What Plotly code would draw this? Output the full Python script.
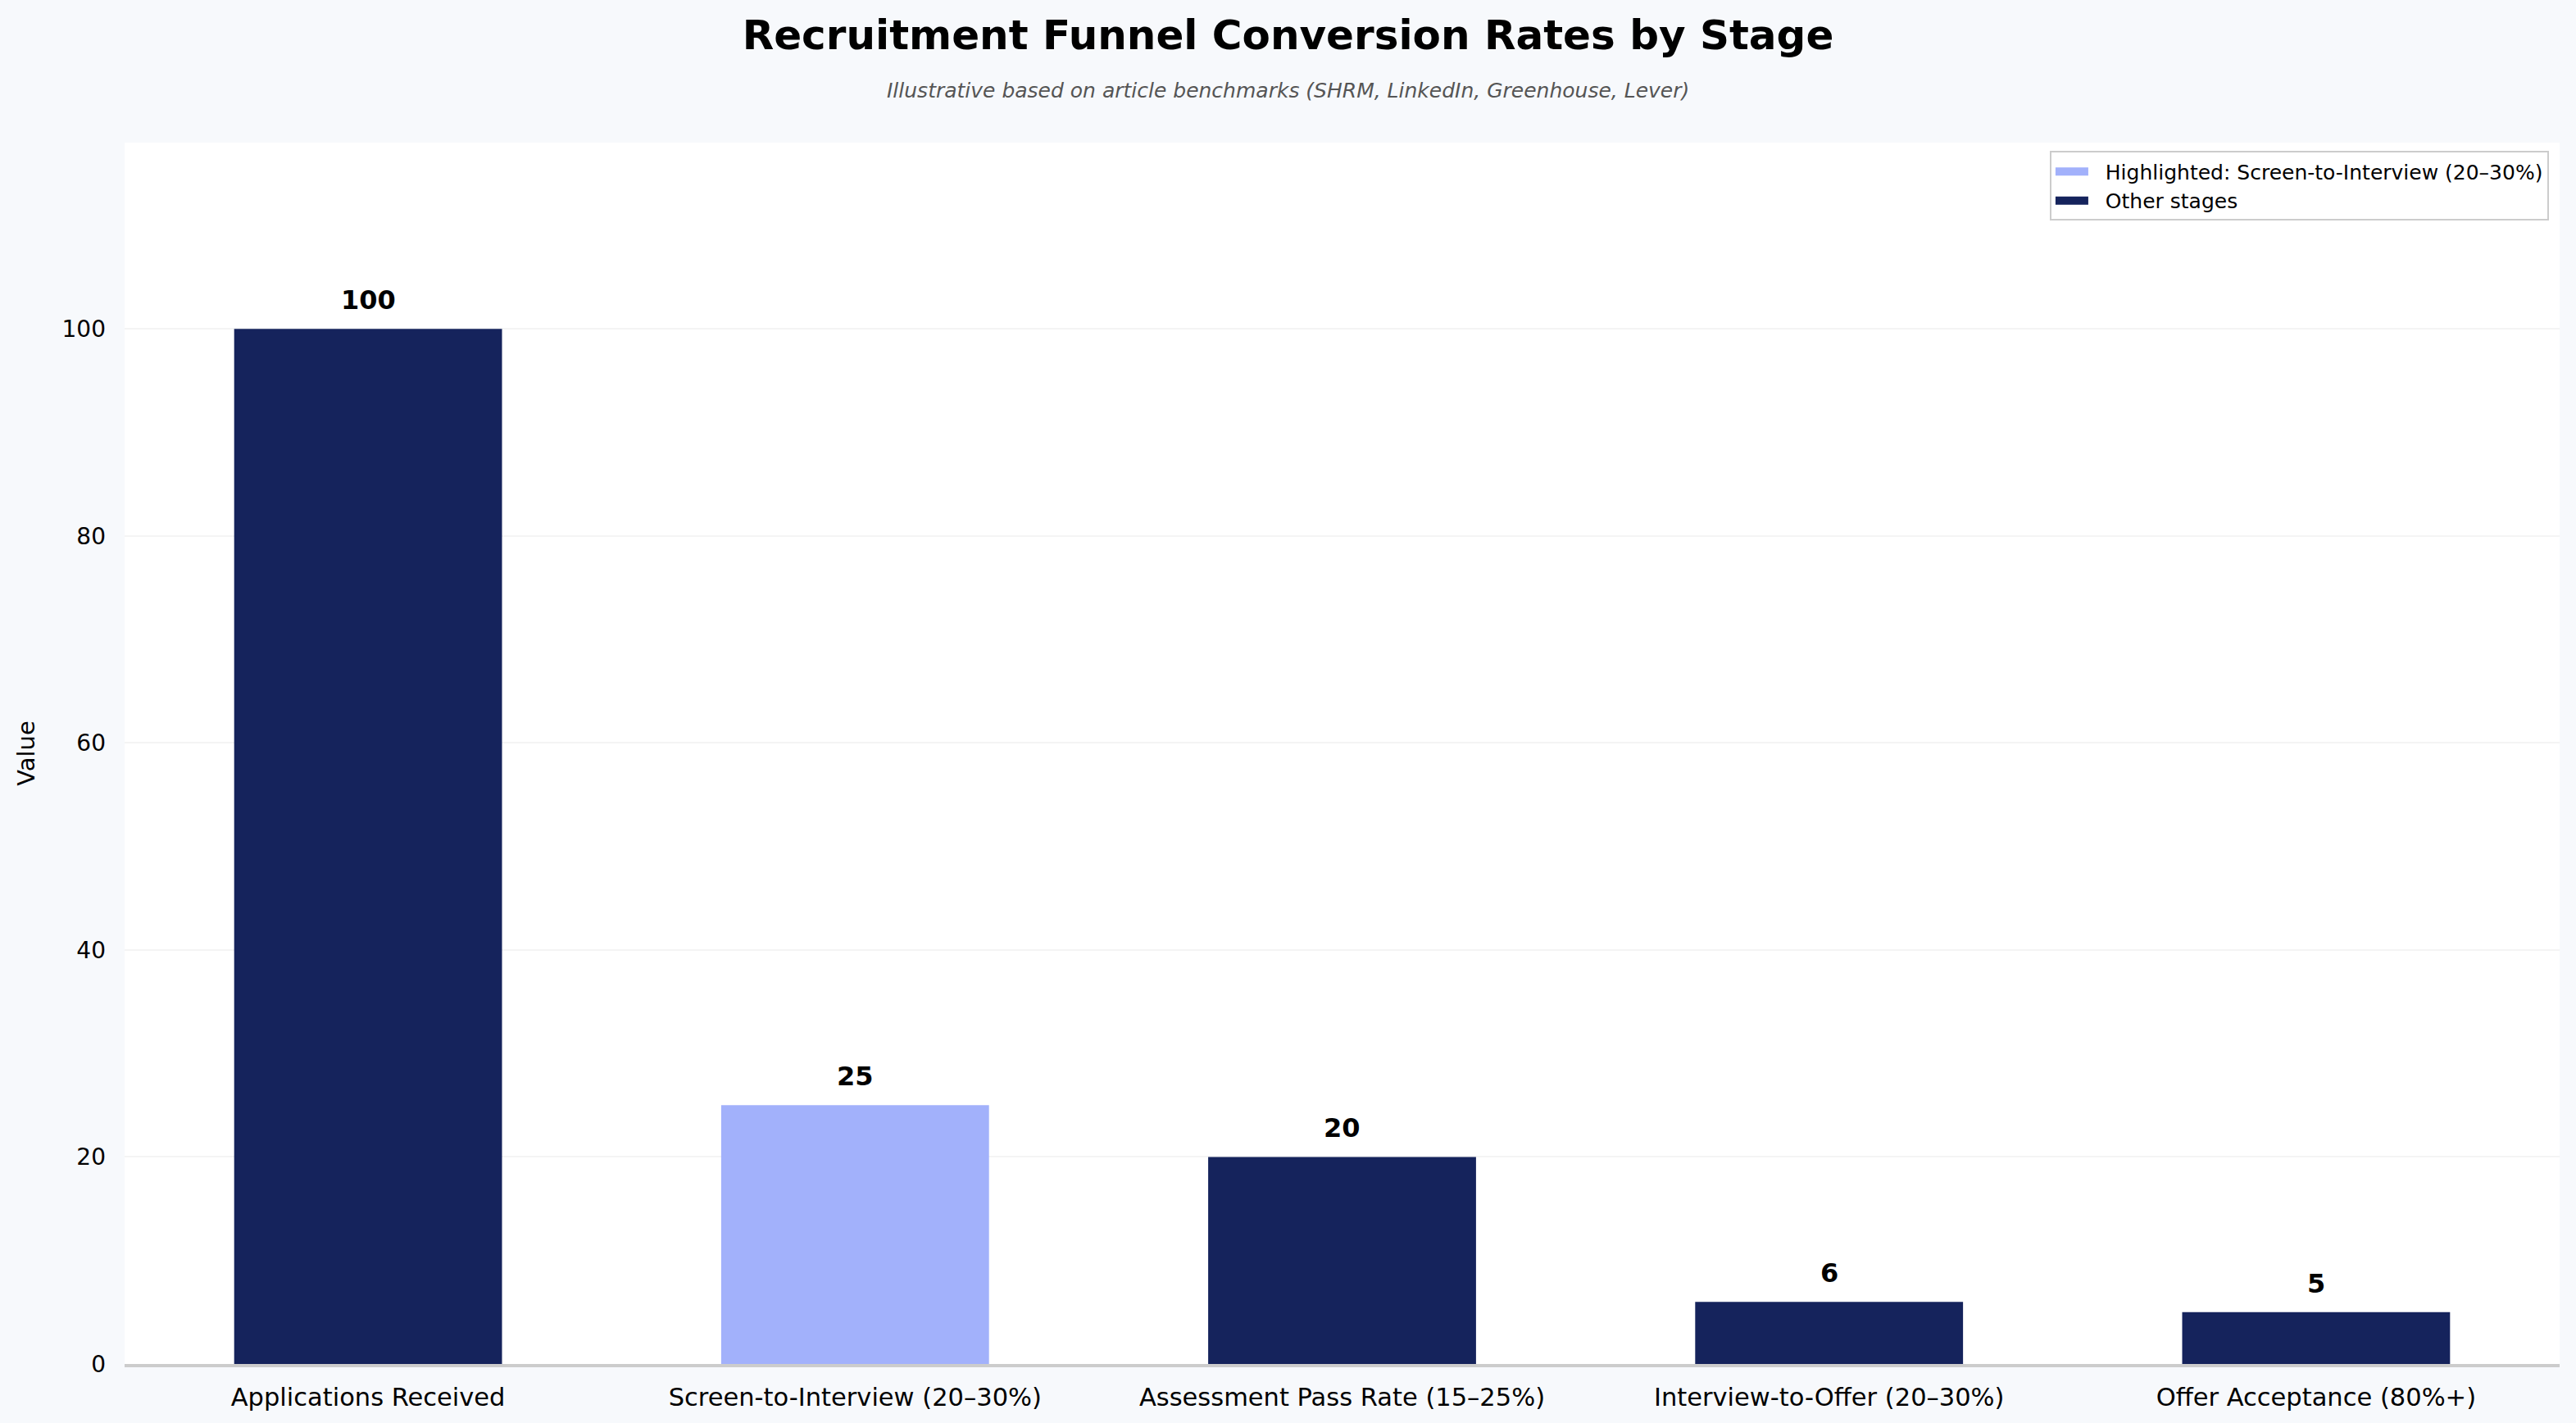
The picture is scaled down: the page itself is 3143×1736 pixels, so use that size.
import plotly.graph_objects as go

stages = [
    "Applications Received",
    "Screen-to-Interview (20–30%)",
    "Assessment Pass Rate (15–25%)",
    "Interview-to-Offer (20–30%)",
    "Offer Acceptance (80%+)",
]
values = [100, 25, 20, 6, 5]
highlight_stage = "Screen-to-Interview (20–30%)"
legend_names = ["Highlighted: Screen-to-Interview (20–30%)", "Other stages"]
y_ticks = [0, 20, 40, 60, 80, 100]

NAVY = "#15235C"
LIGHT = "#A2B1FB"
FONT = "DejaVu Sans"
PAD = "\u00a0\u00a0"

hi_x = [s for s in stages if s == highlight_stage]
hi_y = [v for s, v in zip(stages, values) if s == highlight_stage]
ot_x = [s for s in stages if s != highlight_stage]
ot_y = [v for s, v in zip(stages, values) if s != highlight_stage]

fig = go.Figure()
fig.add_trace(go.Bar(x=hi_x, y=hi_y, name=legend_names[0],
                     marker=dict(color=LIGHT, line=dict(width=0)), width=0.55,
                     showlegend=False))
fig.add_trace(go.Bar(x=ot_x, y=ot_y, name=legend_names[1],
                     marker=dict(color=NAVY, line=dict(width=0)), width=0.55,
                     showlegend=False))
# legend proxies (wide rectangular swatches)
fig.add_trace(go.Scatter(x=[None], y=[None], mode="lines",
                         line=dict(color=LIGHT, width=18),
                         name=PAD + legend_names[0]))
fig.add_trace(go.Scatter(x=[None], y=[None], mode="lines",
                         line=dict(color=NAVY, width=18),
                         name=PAD + legend_names[1]))

for s, v in zip(stages, values):
    fig.add_annotation(x=s, y=v, text=f"<b>{v}</b>", showarrow=False,
                       yanchor="bottom", yshift=14,
                       font=dict(family=FONT, size=32, color="#000000"))

PLOT_L, PLOT_R, PLOT_T, PLOT_B = 152, 20, 174, 72
PW = 3143 - PLOT_L - PLOT_R
PH = 1736 - PLOT_T - PLOT_B

fig.update_layout(
    width=3143, height=1736,
    paper_bgcolor="#F7F9FC", plot_bgcolor="#FFFFFF",
    margin=dict(l=PLOT_L, r=PLOT_R, t=PLOT_T, b=PLOT_B),
    barmode="overlay",
    font=dict(family=FONT, color="#000000"),
    title=dict(text="<b>Recruitment Funnel Conversion Rates by Stage</b>",
               x=0.5, xanchor="center", y=1 - 42 / 1736, yanchor="middle",
               font=dict(family=FONT, size=50, color="#000000")),
    legend=dict(x=0.9956, xanchor="right", y=0.993, yanchor="top",
                bgcolor="#FFFFFF", bordercolor="#CCCCCC", borderwidth=2,
                font=dict(family=FONT, size=25, color="#000000"),
                itemwidth=40, tracegroupgap=4),
    showlegend=True,
)
fig.add_annotation(text="<i>Illustrative based on article benchmarks (SHRM, LinkedIn, Greenhouse, Lever)</i>",
                   xref="paper", yref="paper",
                   x=(3143 / 2 - PLOT_L) / PW, y=(1736 - PLOT_B - 110) / PH,
                   showarrow=False, yanchor="middle", xanchor="center",
                   font=dict(family=FONT, size=25, color="#555555"))

fig.update_xaxes(categoryorder="array", categoryarray=stages, range=[-0.5, 4.5],
                 showgrid=False, showline=True, linecolor="#CCCCCC", linewidth=4,
                 ticks="", tickfont=dict(family=FONT, size=30.5, color="#000000"),
                 ticklabelstandoff=10)
fig.update_yaxes(range=[0, 118], tickvals=y_ticks, showgrid=True, gridcolor="#F4F4F4",
                 gridwidth=2, zeroline=False, showline=False, ticks="",
                 tickfont=dict(family=FONT, size=28, color="#000000"),
                 ticklabelstandoff=22,
                 title=dict(text="Value", font=dict(family=FONT, size=29, color="#000000"),
                            standoff=24))

fig.write_html("out.html")
